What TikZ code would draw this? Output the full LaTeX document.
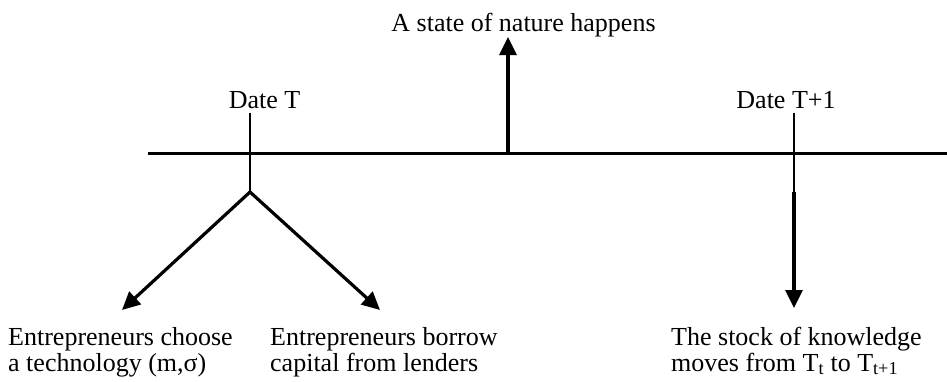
\documentclass[tikz,border=0pt]{standalone}
\usepackage{fontspec}
\setmainfont{Liberation Serif}
\usetikzlibrary{arrows.meta}
\begin{document}
\begin{tikzpicture}[x=1pt,y=-1pt,
  lbl/.style={inner sep=0pt,font=\fontsize{26}{26}\selectfont},
  thickline/.style={line width=3pt},
  thinline/.style={line width=1.8pt},
  arr/.style={line width=3.2pt,-{Triangle[length=18pt,width=17pt]}}]
\useasboundingbox (0,0) rectangle (947,381);
% timeline
\coordinate (L0) at (148,153);
\coordinate (L1) at (947,153);
\draw[thickline] (L0) -- (L1);
% Date T
\coordinate (Ttop) at (250,113);
\coordinate (Tbot) at (250,192);
\draw[thinline] (Ttop) -- (Tbot);
\node[lbl,anchor=base] (dateT) at (264.5,108) {Date T};
\coordinate (Ltip) at (122,310);
\coordinate (Rtip) at (380,310);
\draw[arr] (Tbot) -- (Ltip);
\draw[arr] (Tbot) -- (Rtip);
% nature
\coordinate (N) at (508,153);
\coordinate (Ntip) at (508,37);
\draw[arr] (N) -- (Ntip);
\node[lbl,anchor=base] (nature) at (523.5,31) {A state of nature happens};
% Date T+1
\coordinate (Utop) at (794,113);
\coordinate (Ubot) at (794,192);
\coordinate (Utip) at (794,308);
\draw[thinline] (Utop) -- (Ubot);
\draw[arr] (Ubot) -- (Utip);
\node[lbl,anchor=base] (dateT1) at (786,108) {Date T+1};
% bottom texts (base = last line)
\node[lbl,anchor=base west,align=left] (choose) at (8,371) {Entrepreneurs choose\\a technology (m,σ)};
\node[lbl,anchor=base west,align=left] (borrow) at (270,371) {Entrepreneurs borrow\\capital from lenders};
\node[lbl,anchor=base west,align=left] (stock) at (671,371) {The stock of knowledge\\moves from T\textsubscript{t} to T\textsubscript{t+1}};
\end{tikzpicture}
\end{document}
